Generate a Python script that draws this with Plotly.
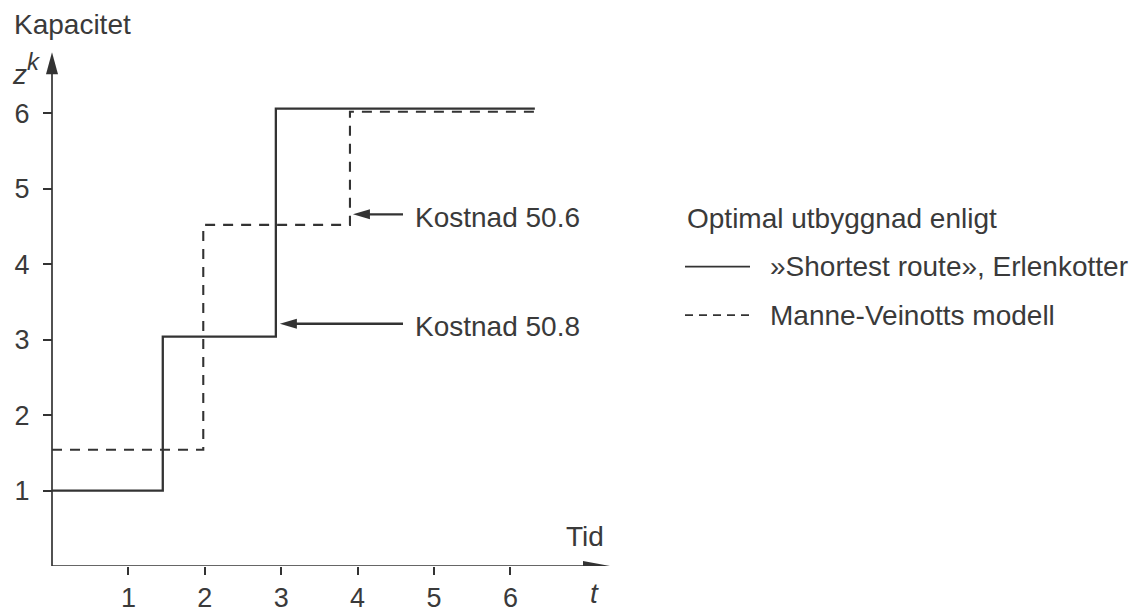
import plotly.graph_objects as go

# Capacity expansion paths: time t and installed capacity z^k
t_shortest = [0, 1.45, 2.93, 6.32]
z_shortest = [1.00, 3.04, 6.06, 6.06]
t_manne = [0, 1.98, 3.90, 6.32]
z_manne = [1.54, 4.52, 6.02, 6.02]

tick_vals = [1, 2, 3, 4, 5, 6]
cost_labels = ["Kostnad 50.6", "Kostnad 50.8"]
cost_y = [4.66, 3.21]
legend_title = "Optimal utbyggnad enligt"
legend_names = ["»Shortest route», Erlenkotter", "Manne-Veinotts modell"]

W, H = 1146, 613
PX = 76.4          # pixels per unit on both axes
ORIGIN_X = 52      # pixel column of t = 0
BOTTOM = 40        # pixel rows below z = 0
INK = "#333333"
TEXT = "#3a3a3a"
FONT = "Liberation Sans, Arial, sans-serif"
FS = 28

x_range = [-ORIGIN_X / PX, (W - ORIGIN_X) / PX]
y_range = [0, (H - BOTTOM) / PX]


def px_x(p):
    return (p - ORIGIN_X) / PX


def px_y(p):
    return (H - BOTTOM - p) / PX


fig = go.Figure()

fig.add_trace(go.Scatter(
    x=t_shortest, y=z_shortest, mode="lines", line_shape="hv",
    line=dict(color=INK, width=2.3), showlegend=False, hoverinfo="skip"))
fig.add_trace(go.Scatter(
    x=t_manne, y=z_manne, mode="lines", line_shape="hv",
    line=dict(color=INK, width=2.1, dash="10px,8px"), showlegend=False,
    hoverinfo="skip"))

shapes = []
annotations = []


def arrow_head(x, y, path):
    shapes.append(dict(type="path", xref="x", yref="y", xsizemode="pixel",
                       ysizemode="pixel", xanchor=x, yanchor=y, path=path,
                       fillcolor=INK, line=dict(width=0)))


def label(x, y, text, size=FS, anchor="left", yref="y"):
    annotations.append(dict(x=x, y=y, xref="x", yref=yref, text=text,
                            xanchor=anchor, yanchor="middle", showarrow=False,
                            font=dict(family=FONT, size=size, color=TEXT)))


# axes with arrow heads
x_tip, y_tip = px_x(610), px_y(53)
shapes.append(dict(type="line", xref="x", yref="y", x0=0, y0=0,
                   x1=x_tip - 20 / PX, y1=0, line=dict(color=INK, width=1.7)))
arrow_head(x_tip, 0, "M0,0 L-27,-5 L-27,5 Z")
shapes.append(dict(type="line", xref="x", yref="y", x0=0, y0=0,
                   x1=0, y1=y_tip - 16 / PX, line=dict(color=INK, width=1.7)))
arrow_head(0, y_tip, "M0,0 L-6,-22 L6,-22 Z")

# cost pointers to the last expansion step of each path
cost_tips = [t_manne[2] + 3 / PX, t_shortest[2] + 4 / PX]
label_x = px_x(413)
for lab, yv, tip in zip(cost_labels, cost_y, cost_tips):
    shapes.append(dict(type="line", xref="x", yref="y", x0=tip + 12 / PX,
                       y0=yv, x1=label_x - 10 / PX, y1=yv,
                       line=dict(color=INK, width=2.3)))
    arrow_head(tip, yv, "M0,0 L17,-5 L17,5 Z")
    label(label_x, yv - 3 / PX, lab)

# key to the two line styles
leg_x0, leg_x1 = px_x(685), px_x(750)
leg_rows = [px_y(221), px_y(270), px_y(319)]
label(leg_x0, leg_rows[0], legend_title)
for i, (name, dash) in enumerate(zip(legend_names, ["solid", "8px,6px"])):
    yv = leg_rows[i + 1]
    shapes.append(dict(type="line", xref="x", yref="y", x0=leg_x0, y0=yv,
                       x1=leg_x1, y1=yv,
                       line=dict(color=INK, width=1.7, dash=dash)))
    label(px_x(768), yv, name)

# axis titles
label(px_x(12), px_y(25), "Kapacitet")
label(px_x(19), px_y(75), "<i>z</i>", anchor="center")
label(px_x(34), px_y(62), "<i>k</i>", size=24, anchor="center")
label(px_x(585), px_y(543), "Tid", anchor="center")
label(px_x(594), -28 / (H - BOTTOM), "<i>t</i>", anchor="center",
      yref="paper")

fig.update_layout(
    width=W, height=H,
    margin=dict(l=0, r=0, t=0, b=BOTTOM),
    paper_bgcolor="white", plot_bgcolor="white",
    font=dict(family=FONT, size=FS, color=TEXT),
    shapes=shapes, annotations=annotations,
    xaxis=dict(range=x_range, tickvals=tick_vals, ticks="outside", ticklen=8,
               tickwidth=1.6, tickcolor=INK, showgrid=False, zeroline=False,
               showline=False, tickfont=dict(size=27, color=TEXT)),
    yaxis=dict(range=y_range, tickvals=tick_vals, ticks="outside", ticklen=9,
               tickwidth=1.6, tickcolor=INK, showgrid=False, zeroline=False,
               showline=False, anchor="free", position=ORIGIN_X / W,
               ticklabelstandoff=8, tickfont=dict(size=27, color=TEXT)),
)

fig.write_html("out.html")
